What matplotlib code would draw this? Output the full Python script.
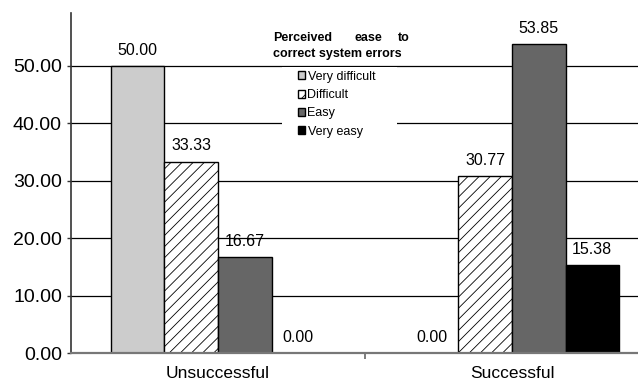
import matplotlib.pyplot as plt
import matplotlib.patches as mpatches
import numpy as np

plt.rcParams['font.family'] = ['Liberation Sans', 'DejaVu Sans']
plt.rcParams['hatch.linewidth'] = 0.6

groups = ['Unsuccessful', 'Successful']
series = ['Very difficult', 'Difficult', 'Easy', 'Very easy']
values = [
    [50.00, 0.00],   # Very difficult
    [33.33, 30.77],  # Difficult
    [16.67, 53.85],  # Easy
    [0.00, 15.38],   # Very easy
]
y_ticks = [0, 10, 20, 30, 40, 50]

colors = ['#cccccc', 'white', '#666666', 'black']
hatches = [None, '///', None, None]

fig = plt.figure(figsize=(6.38, 3.82), dpi=100)
ax = fig.add_axes([71 / 638, 29 / 382, 588 / 638, 340 / 382])

x = np.arange(len(groups))
w = 0.182
for i, name in enumerate(series):
    pos = x + (i - 1.5) * w
    bars = ax.bar(pos, values[i], w, color=colors[i], hatch=hatches[i],
                  edgecolor='black', linewidth=1.0, label=name, zorder=2)
    for b, v in zip(bars, values[i]):
        ax.annotate('%.2f' % v, (b.get_x() + b.get_width() / 2, v),
                    xytext=(0, 8), textcoords='offset points',
                    ha='center', va='baseline', fontsize=11.5)

ax.set_xlim(-0.5, 1.5)
ax.set_ylim(0, 59.2)
ax.set_yticks(y_ticks)
ax.set_yticklabels(['%.2f' % t for t in y_ticks], fontsize=14)
ax.yaxis.grid(True, color='black', linewidth=0.9)
ax.set_axisbelow(True)

# category labels sit between the boundary ticks
ax.set_xticks([0.5])
ax.set_xticklabels([''])
ax.tick_params(axis='x', length=4, width=1.2, color='#666666', direction='out')
ax.tick_params(axis='y', length=3, width=1.0, color='#333333', pad=3.5)
for xi, g in zip(x, groups):
    ax.text(xi, -2.2, g, ha='center', va='top', fontsize=12.5)

ax.spines['top'].set_visible(False)
ax.spines['right'].set_visible(False)
ax.spines['left'].set_color('#333333')
ax.spines['left'].set_linewidth(1.2)
ax.spines['bottom'].set_color('#777777')
ax.spines['bottom'].set_linewidth(1.6)

# white panel behind the legend hides the gridlines
panel = mpatches.Rectangle((282 / 638, 1 - 135 / 382), 115 / 638, 68 / 382,
                           transform=fig.transFigure, facecolor='white',
                           edgecolor='none', zorder=3, clip_on=False)
ax.add_artist(panel)

leg = ax.legend(loc='upper left', bbox_to_anchor=(289 / 638, 1 - 62 / 382),
                bbox_transform=fig.transFigure, frameon=False, fontsize=9,
                handlelength=0.6, handleheight=0.6, handletextpad=0.18,
                labelspacing=0.5, borderpad=0.2)
leg.set_zorder(5)

# justified two-line legend heading
fig.text(273 / 638, 1 - 38 / 382, 'Perceived', fontsize=9, fontweight='bold',
         ha='left', va='center')
fig.text(368 / 638, 1 - 38 / 382, 'ease', fontsize=9, fontweight='bold',
         ha='center', va='center')
fig.text(410 / 638, 1 - 38 / 382, 'to', fontsize=9, fontweight='bold',
         ha='right', va='center')
fig.text(273 / 638, 1 - 54 / 382, 'correct system errors', fontsize=9,
         fontweight='bold', ha='left', va='center')

fig.savefig('out.png', dpi=100)
